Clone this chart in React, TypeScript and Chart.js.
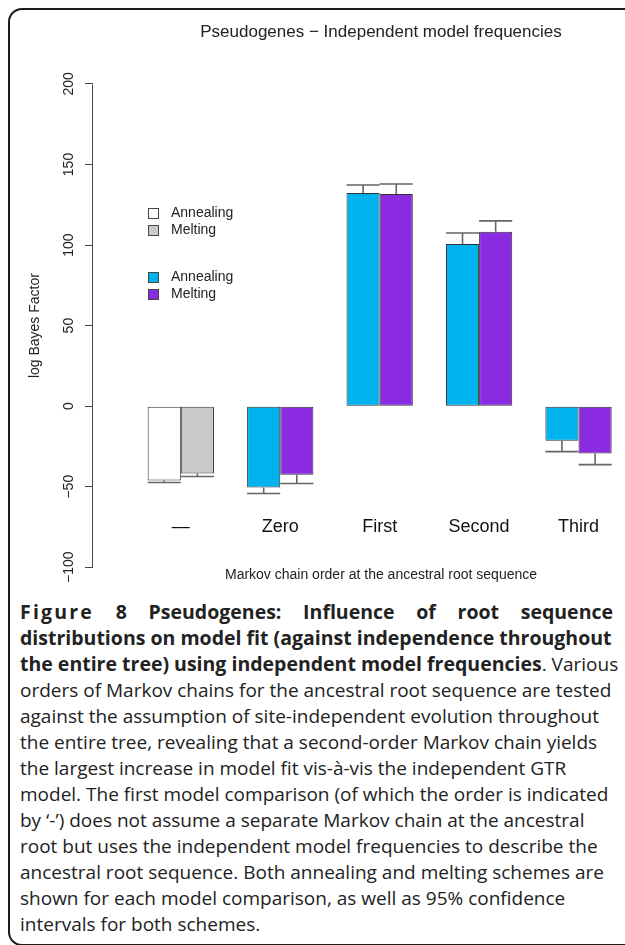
import React, { useEffect, useRef } from "react";
import { Chart, registerables } from "chart.js";

Chart.register(...registerables);

// ---------- data ----------
const categories = ["\u2014", "Zero", "First", "Second", "Third"];
const seriesLabels = ["Annealing", "Melting"];
const annealing = [-46.2, -50.5, 132.3, 100.7, -21.4];
const melting = [-41.8, -42.5, 131.7, 108.2, -29.4];
const annealingCI = [-47.4, -54.2, 137.3, 107.5, -28.2];
const meltingCI = [-43.7, -48.0, 137.9, 115.0, -36.3];
const categoryScheme = ["plain", "markov", "markov", "markov", "markov"];
const schemeColors: Record<string, string[]> = {
  plain: ["#FFFFFF", "#C9C9C9"],
  markov: ["#00B2EE", "#8A2BE2"],
};
const legendSchemes = ["plain", "markov"];
const titleText = "Pseudogenes \u2212 Independent model frequencies";
const xTitle = "Markov chain order at the ancestral root sequence";
const yTitle = "log Bayes Factor";

const captionLines: { lead?: string; bold?: string; text?: string; first?: boolean }[] = [
  { lead: "Figure", bold: " 8 Pseudogenes: Influence of root sequence", first: true },
  { bold: "distributions on model fit (against independence throughout" },
  { bold: "the entire tree) using independent model frequencies", text: ". Various" },
  { text: "orders of Markov chains for the ancestral root sequence are tested" },
  { text: "against the assumption of site-independent evolution throughout" },
  { text: "the entire tree, revealing that a second-order Markov chain yields" },
  { text: "the largest increase in model fit vis-\u00e0-vis the independent GTR" },
  { text: "model. The first model comparison (of which the order is indicated" },
  { text: "by \u2018-\u2019) does not assume a separate Markov chain at the ancestral" },
  { text: "root but uses the independent model frequencies to describe the" },
  { text: "ancestral root sequence. Both annealing and melting schemes are" },
  { text: "shown for each model comparison, as well as 95% confidence" },
  { text: "intervals for both schemes." },
];

const FONT = "'Liberation Sans', Arial, Helvetica, sans-serif";
// bar-plot slot positions (R barplot units: 2 bars + 1 space per group)
const groupX = categories.map((_, i) => 2 + 3 * i);

const errorBarsPlugin = {
  id: "errorBars",
  afterDatasetsDraw(chart: any) {
    const ctx = chart.ctx;
    const ys = chart.scales.y;
    const cis = [annealingCI, meltingCI];
    ctx.save();
    ctx.strokeStyle = "#666";
    ctx.lineWidth = 1.6;
    chart.data.datasets.forEach((_: any, di: number) => {
      const meta = chart.getDatasetMeta(di);
      meta.data.forEach((bar: any, i: number) => {
        const { x, y, width } = bar.getProps(["x", "y", "width"], true);
        const cy = ys.getPixelForValue(cis[di][i]);
        ctx.beginPath();
        ctx.moveTo(x, y);
        ctx.lineTo(x, cy);
        ctx.moveTo(x - width / 2, cy);
        ctx.lineTo(x + width / 2, cy);
        ctx.stroke();
      });
    });
    ctx.restore();
  },
};

const axisLinePlugin = {
  id: "axisLine",
  afterDraw(chart: any) {
    const ctx = chart.ctx;
    const ys = chart.scales.y;
    const t = ys.ticks;
    const x = Math.round(ys.right) - 0.5;
    ctx.save();
    ctx.strokeStyle = "#444";
    ctx.lineWidth = 1;
    ctx.beginPath();
    ctx.moveTo(x, Math.round(ys.getPixelForValue(t[0].value)) + 0.5);
    ctx.lineTo(x, Math.round(ys.getPixelForValue(t[t.length - 1].value)) + 0.5);
    ctx.stroke();
    // x axis title
    const ca = chart.chartArea;
    ctx.fillStyle = "#222";
    ctx.font = `14px ${FONT}`;
    ctx.textAlign = "center";
    ctx.textBaseline = "middle";
    ctx.fillText(xTitle, (ca.left + ca.right) / 2, ca.bottom - 11);
    ctx.restore();
  },
};

const groupLegendPlugin = {
  id: "groupLegend",
  afterDraw(chart: any, _args: any, opts: any) {
    const ctx = chart.ctx;
    const xs = chart.scales.x;
    const ys = chart.scales.y;
    const left = Math.round(xs.getPixelForValue(opts.x));
    ctx.save();
    ctx.font = `14px ${FONT}`;
    ctx.textAlign = "left";
    ctx.textBaseline = "middle";
    legendSchemes.forEach((scheme, gi) => {
      const top = ys.getPixelForValue(opts.groupY[gi]);
      seriesLabels.forEach((label, s) => {
        const cy = Math.round(top + s * 17);
        ctx.fillStyle = schemeColors[scheme][s];
        ctx.fillRect(left, cy - 5, 10, 10);
        ctx.strokeStyle = "#444";
        ctx.lineWidth = 1;
        ctx.strokeRect(left + 0.5, cy - 4.5, 10, 10);
        ctx.fillStyle = "#222";
        ctx.fillText(label, left + 23, cy);
      });
    });
    ctx.restore();
  },
};

export default function App() {
  const ref = useRef<HTMLCanvasElement>(null);

  useEffect(() => {
    if (!ref.current) return;
    Chart.defaults.font.family = FONT;
    const chart = new Chart(ref.current, {
      type: "bar",
      data: {
        datasets: seriesLabels.map((label, s) => ({
          label,
          data: categories.map((_, i) => ({
            x: groupX[i],
            y: s === 0 ? annealing[i] : melting[i],
          })),
          backgroundColor: categories.map((_, i) => schemeColors[categoryScheme[i]][s]),
          borderColor: "#333",
          borderWidth: 1,
          borderSkipped: false,
          categoryPercentage: 2 / 3,
          barPercentage: 1,
        })),
      },
      options: {
        animation: false,
        responsive: false,
        layout: { padding: { left: 0, right: 21, top: 0, bottom: 7.6 } },
        plugins: {
          legend: { display: false },
          tooltip: { enabled: false },
          title: {
            display: true,
            text: titleText,
            fullSize: false,
            color: "#222",
            font: { family: FONT, size: 17, weight: "normal" },
            padding: { top: 21.8, bottom: 22.4 },
          },
          groupLegend: { x: 1, groupY: [119.9, 80.3] },
        } as any,
        scales: {
          x: {
            type: "linear",
            offset: false,
            min: -0.65,
            max: 16.73,
            position: { y: -62.3 } as any,
            grid: { display: false, offset: false },
            border: { display: false },
            afterBuildTicks: (s: any) => {
              s.ticks = groupX.map((v) => ({ value: v }));
            },
            ticks: {
              autoSkip: false,
              maxRotation: 0,
              padding: 2,
              color: "#111",
              font: { family: FONT, size: 18 },
              callback: (_v: any, i: number) => categories[i],
            },
          },
          y: {
            type: "linear",
            min: -112,
            max: 212,
            afterFit: (s: any) => {
              s.width = 93;
            },
            border: { display: false },
            grid: { drawOnChartArea: false, tickLength: 8, color: "#444" },
            ticks: {
              stepSize: 50,
              includeBounds: false,
              minRotation: 90,
              maxRotation: 90,
              crossAlign: "center",
              padding: 0,
              color: "#222",
              font: { family: FONT, size: 14 },
              callback: (v: any) => String(v).replace("-", "\u2212"),
            } as any,
            title: {
              display: true,
              text: yTitle,
              color: "#222",
              font: { family: FONT, size: 14 },
              padding: { top: 26.6, bottom: 0 },
            },
          },
        },
      },
      plugins: [errorBarsPlugin, axisLinePlugin, groupLegendPlugin],
    } as any);
    return () => chart.destroy();
  }, []);

  return (
    <div
      style={{
        position: "absolute",
        left: 0,
        top: 0,
        width: 625,
        height: 945,
        overflow: "hidden",
        background: "#fff",
      }}
    >
      <div
        style={{
          position: "absolute",
          left: 8,
          top: 8,
          width: 700,
          height: 938,
          boxSizing: "border-box",
          border: "2px solid #1c1c1c",
          borderRadius: 14,
        }}
      />
      <canvas
        ref={ref}
        width={690}
        height={595}
        style={{ position: "absolute", left: 0, top: 0, width: 690, height: 595 }}
      />
      <div
        style={{
          position: "absolute",
          left: 20,
          top: 599,
          width: 593,
          fontFamily: "'Open Sans', 'Noto Sans', sans-serif",
          fontSize: 19,
          lineHeight: "26px",
          color: "#222",
        }}
      >
        {captionLines.map((l, i) => (
          <div
            key={i}
            style={{
              whiteSpace: "nowrap",
              textAlign: l.first ? "justify" : "left",
              textAlignLast: l.first ? "justify" : "auto",
            }}
          >
            {l.lead && (
              <b style={{ fontSize: 19.5, fontWeight: 700, letterSpacing: 2.2 }}>{l.lead}</b>
            )}
            {l.bold && <b style={{ fontSize: 19.5, fontWeight: 700 }}>{l.bold}</b>}
            {l.text}
          </div>
        ))}
      </div>
    </div>
  );
}
